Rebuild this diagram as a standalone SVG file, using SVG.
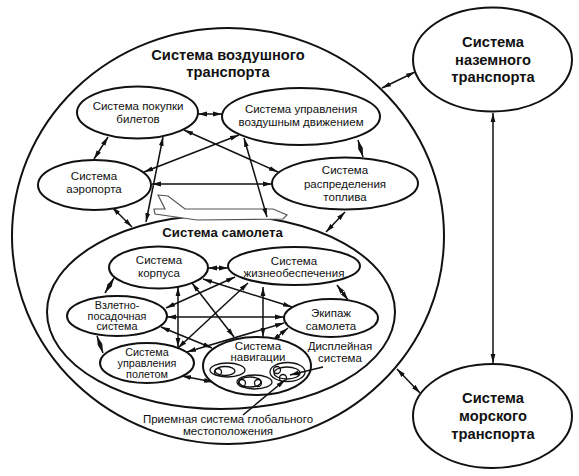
<svg xmlns="http://www.w3.org/2000/svg" width="579" height="476" viewBox="0 0 579 476">
<style>
text{font-family:"Liberation Sans",Arial,sans-serif;text-anchor:middle;fill:#111}
.t{font-size:11.5px}
.n{font-size:10.8px}
.b{font-size:14.7px;font-weight:bold}
.e{fill:none;stroke:#111;stroke-width:2}
.w{fill:#fff;stroke:#111;stroke-width:2}
.s{fill:none;stroke:#111;stroke-width:1.3}
.c{stroke:#111;stroke-width:1.5;fill:none;marker-start:url(#a);marker-end:url(#a)}
.o{stroke:#111;stroke-width:1.5;fill:none;marker-end:url(#a)}
</style>
<defs><marker id="a" markerUnits="userSpaceOnUse" markerWidth="10" markerHeight="6" refX="9" refY="3" orient="auto-start-reverse"><path d="M0 0.6L9 3L0 5.4z" fill="#111"/></marker></defs>
<rect width="579" height="476" fill="#fff"/>
<g id="air"><ellipse class="e" cx="228" cy="236" rx="216" ry="208"/><text class="b" x="228" y="60">Система воздушного</text><text class="b" x="228" y="77">транспорта</text></g>
<g id="ground"><ellipse class="e" cx="492.5" cy="59.5" rx="79.5" ry="52"/><text class="b" x="493" y="47">Система</text><text class="b" x="493" y="64.500">наземного</text><text class="b" x="493" y="82">транспорта</text></g>
<g id="sea"><ellipse class="e" cx="492.5" cy="416" rx="79.5" ry="52"/><text class="b" x="493" y="403">Система</text><text class="b" x="493" y="421">морского</text><text class="b" x="493" y="438.500">транспорта</text></g>
<g id="plane-system"><ellipse class="e" cx="221" cy="312" rx="174" ry="97"/><text class="b" style="font-size:13.2px" x="222.500" y="237">Система самолета</text></g>
<g id="aircraft"><path d="M158 195L168 196L185 209L273 209L287 215L283 219L197 220L155 214L154 209L165 209Z" fill="#fff" stroke="#555" stroke-width="1.2"/></g>
<g id="connectors">
<path class="c" d="M198 114H222"/><path class="c" d="M108 137L94 159"/><path class="c" d="M184 130L278 172"/><path class="c" d="M239 135L144 172"/><path class="c" d="M163 137L146 222"/><path class="c" d="M244 138L267 217"/><path class="c" d="M358 140L363 157"/><path class="c" d="M152 184H272"/><path class="c" d="M112 207L132 227"/><path class="c" d="M345 212L326 232"/><path class="c" d="M415 72L382 88"/><path class="c" d="M493 113V363"/><path class="c" d="M397 369L420 393"/>
<path class="c" d="M208 268H228"/><path class="c" d="M114 278L105 293"/><path class="c" d="M337 285L348 300"/><path class="c" d="M235 277L166 308"/><path class="c" d="M203 279L292 307"/><path class="c" d="M178 287V347"/><path class="c" d="M192 283L234 337"/><path class="c" d="M248 283L178 348"/><path class="c" d="M263 287V337"/><path class="c" d="M167 317H284"/><path class="c" d="M161 327L212 348"/><path class="c" d="M284 323L187 352"/><path class="c" d="M272 341L288 328"/><path class="c" d="M97 336L103 353"/><path class="c" d="M182 376L213 382"/>
</g>
<g id="ticket"><ellipse class="w" cx="137.5" cy="112.5" rx="60.5" ry="26"/><text class="t" x="138" y="110">Система покупки</text><text class="t" x="138" y="123">билетов</text></g>
<g id="atc"><ellipse class="w" cx="301" cy="116.5" rx="79" ry="28.5"/><text class="t" x="301" y="113">Система управления</text><text class="t" x="301" y="126">воздушным движением</text></g>
<g id="airport"><ellipse class="w" cx="94.5" cy="185" rx="56.5" ry="25"/><text class="t" x="94" y="180">Система</text><text class="t" x="94" y="193">аэропорта</text></g>
<g id="fuel"><ellipse class="w" cx="345" cy="183.5" rx="73" ry="26"/><text class="t" x="345" y="174">Система</text><text class="t" x="345" y="188">распределения</text><text class="t" x="345" y="201">топлива</text></g>
<g id="hull"><ellipse class="w" cx="158.5" cy="267.5" rx="49.5" ry="21"/><text class="t" x="159" y="264">Система</text><text class="t" x="159" y="277">корпуса</text></g>
<g id="life"><ellipse class="w" cx="294" cy="266" rx="66" ry="19"/><text class="t" x="294" y="265">Система</text><text class="t" x="294" y="277">жизнеобеспечения</text></g>
<g id="takeoff"><ellipse class="w" cx="117" cy="316" rx="50" ry="20"/><text class="n" x="117" y="309">Взлетно-</text><text class="n" x="117" y="319.500">посадочная</text><text class="n" x="117" y="330">система</text></g>
<g id="crew"><ellipse class="w" cx="331" cy="318" rx="47" ry="19"/><text class="t" x="331" y="317">Экипаж</text><text class="t" x="331" y="330">самолета</text></g>
<g id="flight"><ellipse class="w" cx="147" cy="363" rx="47" ry="20"/><text class="n" x="147" y="356">Система</text><text class="n" x="147" y="367">управления</text><text class="n" x="147" y="378">полетом</text></g>
<g id="nav"><ellipse class="w" cx="257" cy="366" rx="54" ry="29"/><text class="t" x="258" y="350">Система</text><text class="t" x="258" y="361">навигации</text>
<ellipse class="s" cx="227.5" cy="370" rx="17.5" ry="7"/><ellipse class="s" cx="225" cy="371" rx="10" ry="4.5"/><circle class="s" cx="218" cy="372" r="3.5"/>
<ellipse class="s" cx="254.5" cy="382" rx="17.5" ry="7"/><ellipse class="s" cx="250" cy="382" rx="11" ry="5"/><circle class="s" cx="242" cy="383" r="3.5"/><circle class="s" cx="258" cy="383" r="3.5"/>
<ellipse class="s" cx="287.5" cy="372" rx="17.5" ry="9.5"/><ellipse class="s" cx="287" cy="373" rx="13" ry="6"/><circle class="s" cx="277" cy="370" r="3.5"/><circle class="s" cx="283" cy="378" r="3.5"/></g>
<g id="labels"><text class="t" x="340" y="350">Дисплейная</text><text class="t" x="340" y="362">система</text><text class="t" x="228" y="423">Приемная система глобального</text><text class="t" x="228" y="435">местоположения</text></g>
<g id="pointers"><path class="o" d="M323 367L290 375"/><path class="o" d="M243 415L285 380"/></g>
</svg>
